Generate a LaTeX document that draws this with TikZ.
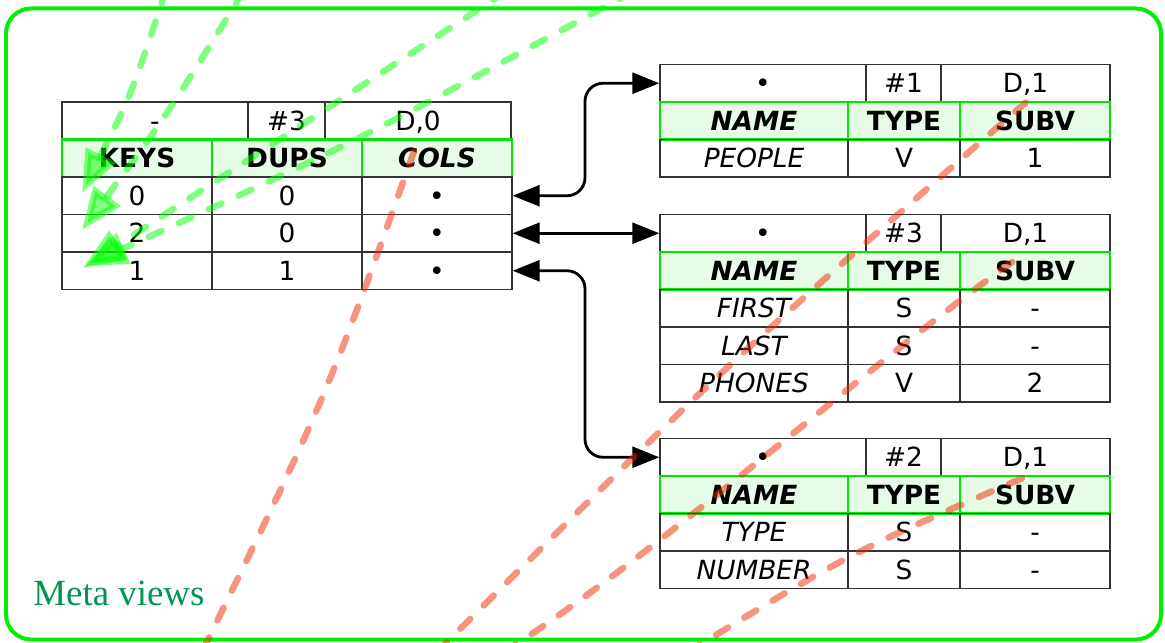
\documentclass[tikz,border=0pt]{standalone}
\usepackage{fontspec}
\usetikzlibrary{arrows.meta}
\newfontfamily\tabfam{DejaVu Sans}
\newfontfamily\labelfam{Liberation Serif}
\newcommand\tabfont{\tabfam\fontsize{15pt}{18pt}\selectfont}
\newcommand\labelfont{\labelfam\fontsize{21pt}{25pt}\selectfont}

\definecolor{framegreen}{RGB}{0,240,0}
\definecolor{hdrgreen}{RGB}{0,230,0}
\definecolor{hdrfill}{RGB}{230,252,230}
\definecolor{labelgreen}{RGB}{0,150,80}
\definecolor{ptrred}{RGB}{240,40,0}
\definecolor{ptrgreen}{RGB}{0,255,0}

\tikzset{
  cell/.style={draw=black!80, line width=0.8pt, minimum height=0.75cm,
    inner sep=0pt, text height=10.9pt, text depth=0pt, font=\tabfont},
  headcell/.style={cell, draw=hdrgreen, line width=1.4pt, fill=hdrfill,
    font=\tabfont\bfseries},
  wA/.style={minimum width=3.72cm},
  wB/.style={minimum width=1.54cm},
  wC/.style={minimum width=3cm},
  rA/.style={minimum width=4.12cm},
  rB/.style={minimum width=1.5cm},
  rC/.style={minimum width=3.38cm},
  rN/.style={minimum width=3.76cm},
  rT/.style={minimum width=2.24cm},
  rS/.style={minimum width=3cm},
  link/.style={line width=1.6pt, rounded corners=0.36cm,
    {Triangle[length=0.54cm,width=0.42cm]}-{Triangle[length=0.54cm,width=0.42cm]}},
  gptr/.style={draw=ptrgreen, opacity=0.5, line width=0.13cm,
    dash pattern=on 0.28cm off 0.38cm, line cap=round,
    -{Triangle[length=0.85cm,width=0.65cm]}},
  rptr/.style={draw=ptrred, opacity=0.5, line width=0.13cm,
    dash pattern=on 0.28cm off 0.38cm, line cap=round},
}

\begin{document}
\begin{tikzpicture}[x=0.02cm, y=-0.02cm]
\useasboundingbox (0,0) rectangle (1165,642);
\clip (0,0) rectangle (1165,642);

% outer frame and its label
\draw[draw=framegreen, line width=0.08cm, rounded corners=0.5cm]
  (6,8.5) rectangle (1161,639.5);
\node[anchor=base west, text=labelgreen, font=\labelfont, inner sep=0pt]
  (metalabel) at (33,605) {Meta views};

% key table
\node[cell, wA] (L-t1) at (155,120.75) {-};
\node[cell, wB] (L-t2) at (286.5,120.75) {\#3};
\node[cell, wA] (L-t3) at (418,120.75) {D,0};
\node[headcell, wC] (L-h1) at (137,158.25) {KEYS};
\node[headcell, wC] (L-h2) at (287,158.25) {DUPS};
\node[headcell, wC] (L-h3) at (437,158.25) {\itshape COLS};
\node[cell, wC] (L-r1c1) at (137,195.75) {0};
\node[cell, wC] (L-r1c2) at (287,195.75) {0};
\node[cell, wC] (L-r1c3) at (437,195.75) {•};
\node[cell, wC] (L-r2c1) at (137,233.25) {2};
\node[cell, wC] (L-r2c2) at (287,233.25) {0};
\node[cell, wC] (L-r2c3) at (437,233.25) {•};
\node[cell, wC] (L-r3c1) at (137,270.75) {1};
\node[cell, wC] (L-r3c2) at (287,270.75) {1};
\node[cell, wC] (L-r3c3) at (437,270.75) {•};

% view #1
\node[cell, rA] (T1-t1) at (763,83.25) {•};
\node[cell, rB] (T1-t2) at (903.5,83.25) {\#1};
\node[cell, rC] (T1-t3) at (1025.5,83.25) {D,1};
\node[headcell, rN] (T1-h1) at (754,120.75) {\itshape NAME};
\node[headcell, rT] (T1-h2) at (904,120.75) {TYPE};
\node[headcell, rS] (T1-h3) at (1035,120.75) {SUBV};
\node[cell, rN] (T1-r1c1) at (754,158.25) {\itshape PEOPLE};
\node[cell, rT] (T1-r1c2) at (904,158.25) {V};
\node[cell, rS] (T1-r1c3) at (1035,158.25) {1};

% view #3
\node[cell, rA] (T2-t1) at (763,233.25) {•};
\node[cell, rB] (T2-t2) at (903.5,233.25) {\#3};
\node[cell, rC] (T2-t3) at (1025.5,233.25) {D,1};
\node[headcell, rN] (T2-h1) at (754,270.75) {\itshape NAME};
\node[headcell, rT] (T2-h2) at (904,270.75) {TYPE};
\node[headcell, rS] (T2-h3) at (1035,270.75) {SUBV};
\node[cell, rN] (T2-r1c1) at (754,308.25) {\itshape FIRST};
\node[cell, rT] (T2-r1c2) at (904,308.25) {S};
\node[cell, rS] (T2-r1c3) at (1035,308.25) {-};
\node[cell, rN] (T2-r2c1) at (754,345.75) {\itshape LAST};
\node[cell, rT] (T2-r2c2) at (904,345.75) {S};
\node[cell, rS] (T2-r2c3) at (1035,345.75) {-};
\node[cell, rN] (T2-r3c1) at (754,383.25) {\itshape PHONES};
\node[cell, rT] (T2-r3c2) at (904,383.25) {V};
\node[cell, rS] (T2-r3c3) at (1035,383.25) {2};

% view #2
\node[cell, rA] (T3-t1) at (763,457.25) {•};
\node[cell, rB] (T3-t2) at (903.5,457.25) {\#2};
\node[cell, rC] (T3-t3) at (1025.5,457.25) {D,1};
\node[headcell, rN] (T3-h1) at (754,494.75) {\itshape NAME};
\node[headcell, rT] (T3-h2) at (904,494.75) {TYPE};
\node[headcell, rS] (T3-h3) at (1035,494.75) {SUBV};
\node[cell, rN] (T3-r1c1) at (754,532.25) {\itshape TYPE};
\node[cell, rT] (T3-r1c2) at (904,532.25) {S};
\node[cell, rS] (T3-r1c3) at (1035,532.25) {-};
\node[cell, rN] (T3-r2c1) at (754,569.75) {\itshape NUMBER};
\node[cell, rT] (T3-r2c2) at (904,569.75) {S};
\node[cell, rS] (T3-r2c3) at (1035,569.75) {-};

% column pointers to the views
\coordinate (bus) at (585,0);
\draw[link] (L-r1c3.east) -| (bus |- T1-t1.west) -- (T1-t1.west);
\draw[link] (L-r2c3.east) -- (T2-t1.west);
\draw[link] (L-r3c3.east) -| (bus |- T3-t1.west) -- (T3-t1.west);

% incoming references from above
\coordinate (g1s) at (166,-10);
\coordinate (g2s) at (243,-8);
\coordinate (g3s) at (505,-8);
\coordinate (g4s) at (632,-8);
\coordinate (k0) at (82,193);
\coordinate (k2) at (82,230);
\coordinate (k1a) at (83,268);
\coordinate (k1b) at (85,266);
\draw[gptr] (g1s) .. controls (131.5,94) .. (k0);
\draw[gptr] (g2s) .. controls (167,115) .. (k2);
\draw[gptr] (g3s) -- (k1a);
\draw[gptr] (g4s) .. controls (354,143) .. (k1b);

% outgoing references from below
\coordinate (r1s) at (203,650);
\coordinate (r2s) at (437,652);
\coordinate (r3s) at (504,652);
\coordinate (r4s) at (688,652);
\draw[rptr] (r1s) .. controls (327.5,394.75) .. (L-t3.south);
\draw[rptr] (r2s) .. controls (722,368) .. (T1-t3.south);
\draw[rptr] (r3s) .. controls (655,557) and (890,346) .. (T2-t3.south);
\draw[rptr] (r4s) .. controls (850,553) .. (T3-t3.south);
\end{tikzpicture}
\end{document}
